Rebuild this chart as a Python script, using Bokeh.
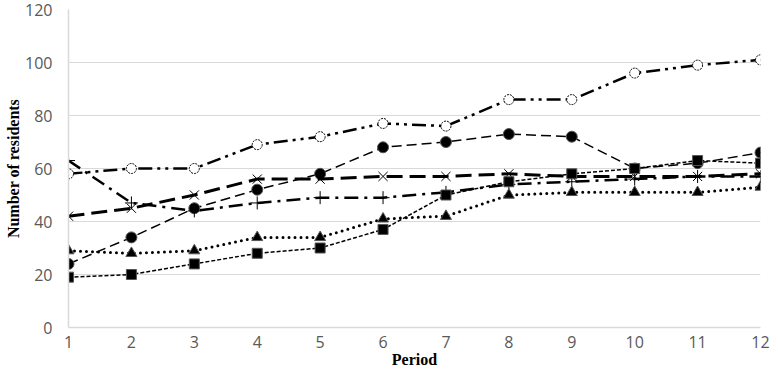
from bokeh.plotting import figure
from bokeh.models import Range1d, FixedTicker
from bokeh.embed import file_html
from bokeh.resources import INLINE

periods = [1, 2, 3, 4, 5, 6, 7, 8, 9, 10, 11, 12]
squares = [19, 20, 24, 28, 30, 37, 50, 55, 58, 60, 63, 62]
triangles = [29, 28, 29, 34, 34, 41, 42, 50, 51, 51, 51, 53]
circles = [24, 34, 45, 52, 58, 68, 70, 73, 72, 60, 62, 66]
crosses = [42, 45, 50, 56, 56, 57, 57, 58, 57, 57, 57, 58]
pluses = [63, 47, 44, 47, 49, 49, 51, 54, 55, 56, 57, 57]
rings = [58, 60, 60, 69, 72, 77, 76, 86, 86, 96, 99, 101]
y_ticks = [0, 20, 40, 60, 80, 100, 120]
x_title = "Period"
y_title = "Number of residents"

p = figure(width=770, height=370, output_backend="svg", toolbar_location=None,
           x_range=Range1d(1, 12), y_range=Range1d(0, 120),
           min_border_left=68, min_border_right=10, min_border_top=9, min_border_bottom=40)
p.outline_line_color = None
p.background_fill_color = "white"
p.border_fill_color = "white"

p.xgrid.grid_line_color = None
p.ygrid.grid_line_color = "#d9d9d9"
p.ygrid.grid_line_width = 1
p.yaxis.ticker = FixedTicker(ticks=y_ticks)
p.xaxis.ticker = FixedTicker(ticks=periods)

for ax in (p.xaxis, p.yaxis):
    ax.axis_line_color = "#d9d9d9"
    ax.axis_line_width = 1.5
    ax.major_tick_line_color = None
    ax.minor_tick_line_color = None
    ax.major_tick_out = 0
    ax.major_tick_in = 0
    ax.minor_tick_out = 0
    ax.minor_tick_in = 0
    ax.major_label_text_font = "Open Sans"
    ax.major_label_text_font_size = "16px"
    ax.major_label_text_color = "#595959"
    ax.axis_label_text_font = "Liberation Serif"
    ax.axis_label_text_font_style = "bold"
    ax.axis_label_text_font_size = "16px"
    ax.axis_label_text_color = "black"

p.yaxis.axis_label = y_title
p.xaxis.axis_label = x_title
p.xaxis.axis_label_standoff = 0
p.xaxis.major_label_standoff = 8
p.yaxis.major_label_standoff = 16
p.yaxis.axis_label_standoff = 0

# rings (dash-dot-dot)
p.line(periods, rings, line_color="black", line_width=2.5, line_dash="14 5 3 5 3 5")
p.scatter(periods, rings, marker="circle", size=10, fill_color="white",
          line_color="black", line_width=1, line_dash="2 1")

# circles (dashed)
p.line(periods, circles, line_color="black", line_width=1.5, line_dash="10 5")
p.scatter(periods, circles, marker="circle", size=11, fill_color="black", line_color="#555555")

# crosses (long dash, thick)
p.line(periods, crosses, line_color="black", line_width=3, line_dash="16 7")
p.scatter(periods, crosses, marker="x", size=13, line_color="black", line_width=1)

# pluses (dash-dot)
p.line(periods, pluses, line_color="black", line_width=2.5, line_dash="14 6 3 6")
p.scatter(periods, pluses, marker="cross", size=13, line_color="black", line_width=1)

# squares (short dash)
p.line(periods, squares, line_color="black", line_width=1.5, line_dash="4 2")
p.scatter(periods, squares, marker="square", size=10, fill_color="black", line_color="#555555")

# triangles (dotted)
p.line(periods, triangles, line_color="black", line_width=3, line_dash="0 6", line_cap="round")
p.scatter(periods, triangles, marker="triangle", size=11, fill_color="black", line_color="#555555")

open("out.html", "w").write(file_html(p, INLINE))
